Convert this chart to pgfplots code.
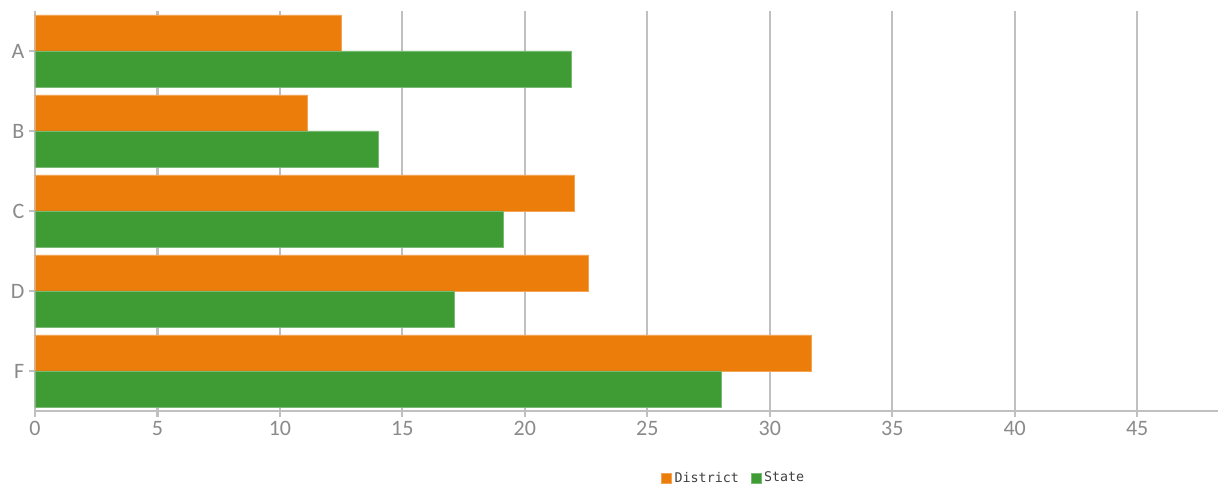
\documentclass[border=0pt]{standalone}
\usepackage{fontspec}
\setmainfont{Carlito}
\newfontfamily\legfont{DejaVu Sans Mono}
\usepackage{pgfplots}
\pgfplotsset{compat=1.18}
\definecolor{cOrange}{HTML}{ED7D0A}
\definecolor{cGreen}{HTML}{3F9C35}
\definecolor{cGrid}{HTML}{C0C0C0}
\definecolor{cTick}{HTML}{8A8A8A}
\begin{document}
\begin{tikzpicture}
\useasboundingbox (-26.25pt,-60pt) rectangle (888.75pt,308.25pt);
\begin{axis}[
  scale only axis,
  width=887.25pt, height=300pt,
  at={(0pt,0pt)}, anchor=south west,
  xbar=0pt, bar width=27pt,
  xmin=0, xmax=48.3,
  ymin=-0.5, ymax=4.5,
  xtick={0,5,...,45},
  ytick={0,1,2,3,4},
  yticklabels={F,D,C,B,A},
  axis x line*=bottom, axis y line*=left,
  axis line style={draw=cGrid, line width=1.6pt, -},
  xmajorgrids,
  grid style={draw=cGrid, line width=1.6pt},
  tick style={draw=cGrid, line width=1.6pt},
  major tick length=4.5pt,
  xtick pos=bottom, ytick pos=left,
  tick align=outside,
  /pgf/number format/assume math mode=true,
  ticklabel style={font=\fontsize{16.5}{18}\selectfont, text=cTick},
  legend style={at={(0.591,-0.1675)}, anchor=center, draw=none, fill=none,
    legend columns=2, font=\legfont\fontsize{10}{12}\selectfont, text=black!75,
    /tikz/every even column/.append style={column sep=7pt}},
  legend image code/.code={\fill[#1] (0pt,-3.9pt) rectangle (7.5pt,3.6pt);},
  legend cell align=left,
]
\addplot[fill=cOrange, draw=cOrange!70!white, line width=0.4pt, bar shift=13.5pt] coordinates {(31.7,0) (22.6,1) (22.0,2) (11.1,3) (12.5,4)};
\addplot[fill=cGreen, draw=cGreen!70!white, line width=0.4pt, bar shift=-13.5pt] coordinates {(28.0,0) (17.1,1) (19.1,2) (14.0,3) (21.9,4)};
\legend{District,State}
\end{axis}
\end{tikzpicture}
\end{document}
